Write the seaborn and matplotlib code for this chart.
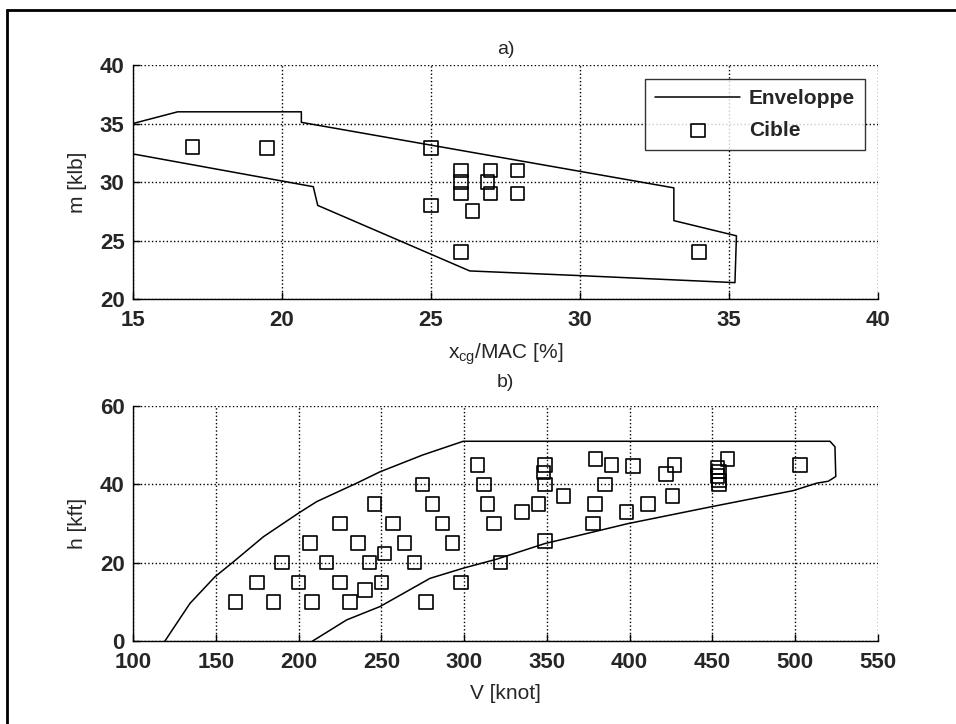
import numpy as np
import pandas as pd
import matplotlib
matplotlib.use('Agg')
import matplotlib.pyplot as plt
from matplotlib.patches import Rectangle
import seaborn as sns

# Envelope a) : centre of gravity vs mass
env_xcg = [15, 16.5, 20.65, 20.65, 33.15, 33.15, 35.25, 35.2, 30.0, 26.3, 21.2, 21.05, 15, 15]
env_m = [35, 36, 36, 35.1, 29.5, 26.7, 25.4, 21.4, 22.0, 22.4, 28.0, 29.6, 32.4, 35]

# Targets a)
cible_xcg = [17, 19.5, 25, 25, 26, 26, 26, 26.4, 26, 27, 26.9, 27, 27.9, 27.9, 34]
cible_m = [33, 32.9, 32.9, 28, 31, 30, 29, 27.5, 24, 31, 30, 29, 31, 29, 24]

# Envelope b) : speed vs altitude
env_v = [119.3, 134.4, 149.5, 160.6, 178.7, 199.8, 211, 235.1, 249.2, 275, 299.5, 521, 524, 524.5,
         520, 513, 498.8, 449.5, 399.2, 357.9, 348.9, 319.7, 299.5, 279.4, 249.2, 229.1, 208.5]
env_h = [0, 9.6, 16.4, 20.2, 26.6, 32.6, 35.6, 40.3, 43.2, 47.5, 51, 51, 49.6, 42,
         40.8, 40.3, 38.4, 34.3, 30, 25.8, 24.9, 20.9, 18.6, 16, 8.8, 5.4, 0]

# Targets b)
cible_v = [162, 175, 185, 190, 200, 207, 208, 217, 225, 225, 231, 236, 240, 243, 246, 250, 252, 257,
           264, 270, 275, 277, 281, 287, 293, 298, 308, 312, 314, 318, 322, 335, 345, 349, 349, 348,
           349, 360, 379.5, 389, 385, 379, 378, 398, 402, 411, 422, 427, 426, 453, 454, 453, 454,
           454, 459, 503]
cible_h = [10, 15, 10, 20, 15, 25, 10, 20, 30, 15, 10, 25, 13, 20, 35, 15, 22.4, 30,
           25, 20, 40, 10, 35, 30, 25, 15, 45, 40, 35, 30, 20, 33, 35, 25.5, 45, 43,
           40, 37, 46.5, 45, 40, 35, 30, 33, 44.7, 35, 42.6, 45, 37, 44.3, 43.3, 42.2, 41,
           40, 46.5, 45]

sns.set_style('ticks')
plt.rcParams['font.family'] = ['Liberation Sans', 'DejaVu Sans']
plt.rcParams['font.size'] = 15
plt.rcParams['font.weight'] = 'bold'
plt.rcParams['xtick.direction'] = 'in'
plt.rcParams['ytick.direction'] = 'in'

fig = plt.figure(figsize=(9.56, 7.24), dpi=100)
fig.patches.append(Rectangle((7 / 956, -0.1), 1.2, 1.1 - 10 / 724, transform=fig.transFigure,
                             fill=False, edgecolor='black', linewidth=2))

ax1 = fig.add_axes([0.1391, 0.5870, 0.7793, 0.3232])
ax2 = fig.add_axes([0.1391, 0.1146, 0.7793, 0.3246])


def draw(ax, ex, ey, cx, cy, xlim, ylim, xticks, yticks, legend):
    env = pd.DataFrame({'x': ex, 'y': ey})
    cib = pd.DataFrame({'x': cx, 'y': cy})
    sns.lineplot(data=env, x='x', y='y', sort=False, estimator=None, color='black',
                 linewidth=1.1, ax=ax, label='Enveloppe' if legend else None)
    sns.scatterplot(data=cib, x='x', y='y', marker='s', s=95, facecolor='none',
                    edgecolor='black', linewidth=1.2, ax=ax,
                    label='Cible' if legend else None)
    for c in ax.collections:
        c.set_facecolor('none')
        c.set_edgecolor('black')
    ax.set_xlim(*xlim)
    ax.set_ylim(*ylim)
    ax.set_xticks(xticks)
    ax.set_yticks(yticks)
    ax.grid(True, linestyle=':', color='black', linewidth=1.0)
    for s in ['top', 'right']:
        ax.spines[s].set_visible(False)
    for s in ['left', 'bottom']:
        ax.spines[s].set_color('black')
        ax.spines[s].set_linewidth(1.0)
    ax.tick_params(length=5, width=1, color='black', labelsize=16)
    ax.tick_params(axis='x', pad=8)
    ax.tick_params(axis='y', pad=6)


draw(ax1, env_xcg, env_m, cible_xcg, cible_m, (15, 40), (20, 40),
     [15, 20, 25, 30, 35, 40], [20, 25, 30, 35, 40], True)
draw(ax2, env_v, env_h, cible_v, cible_h, (100, 550), (0, 60),
     list(range(100, 551, 50)), [0, 20, 40, 60], False)

ax1.set_title('a)', fontsize=14, pad=8)
ax1.set_xlabel('x$_{\\mathregular{cg}}$/MAC [%]', fontsize=15, labelpad=7)
ax1.set_ylabel('m [klb]', fontsize=15, labelpad=9)
ax2.set_title('b)', fontsize=14, pad=14)
ax2.set_xlabel('V [knot]', fontsize=15, labelpad=8)
ax2.set_ylabel('h [kft]', fontsize=15, labelpad=9)

leg = ax1.legend(loc='upper right', bbox_to_anchor=(0.983, 0.94), frameon=True, fancybox=False,
                 edgecolor='black', handlelength=4.1, borderpad=0.5, labelspacing=0.6,
                 handletextpad=0.4, borderaxespad=0, fontsize=15)
leg.get_frame().set_linewidth(1.0)
for h in leg.legend_handles:
    try:
        h.set_facecolor('none')
        h.set_edgecolor('black')
    except Exception:
        pass

fig.savefig('out.png', dpi=100, facecolor='white')
